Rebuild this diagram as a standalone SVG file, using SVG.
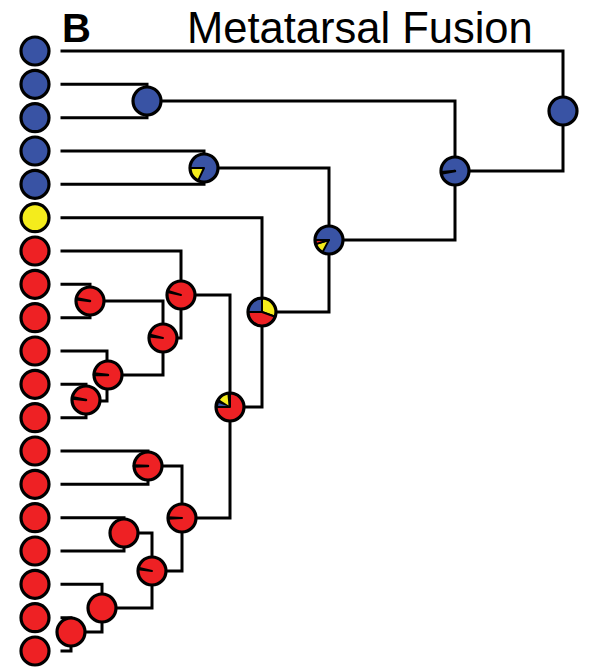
<svg xmlns="http://www.w3.org/2000/svg" width="589" height="670" viewBox="0 0 589 670">
<style>
.c{fill:none;stroke:#000;stroke-width:3;stroke-linecap:square}
.b{fill:#3953a4}
.r{fill:#ee2124}
.y{fill:#f4ec1c}
.o{fill:none;stroke:#000;stroke-width:3.2}
.w{stroke:#000;stroke-width:2;stroke-linejoin:round}
.k{fill:#000;stroke:#000;stroke-width:2.5;stroke-linejoin:round}
.t{font-family:"Liberation Sans",Arial,sans-serif;fill:#000}
</style>
<rect width="589" height="670" fill="#fff"/>
<text class="t" x="62" y="42" font-size="40" font-weight="bold">B</text>
<text class="t" x="187" y="43" font-size="43.5">Metatarsal Fusion</text>
<g id="connectors">
<path class="c" d="M62 51 H563 V111"/>
<path class="c" d="M62 84.3 H147 V117.7 H62"/>
<path class="c" d="M147 101 H455 V171"/>
<path class="c" d="M455 171 H563 V111"/>
<path class="c" d="M455 171 V240 H329"/>
<path class="c" d="M62 151 H204 V184.3 H62"/>
<path class="c" d="M204 168 H329 V312 H262"/>
<path class="c" d="M62 217.7 H262 V407 H230"/>
<path class="c" d="M62 251 H181 V338 H163"/>
<path class="c" d="M181 295 H230 V518 H182"/>
<path class="c" d="M62 284.3 H90 V317.7 H62"/>
<path class="c" d="M90 301 H163 V375 H107"/>
<path class="c" d="M62 351 H107 V401 H86"/>
<path class="c" d="M62 384.3 H86 V417.7 H62"/>
<path class="c" d="M62 451 H148 V484.3 H62"/>
<path class="c" d="M148 466 H182 V571 H152"/>
<path class="c" d="M62 517.7 H124 V551 H62"/>
<path class="c" d="M124 533 H152 V608 H102"/>
<path class="c" d="M62 584.3 H102 V632 H71"/>
<path class="c" d="M62 617.7 H71 V651 H62"/>
</g>
<g id="tips">
<g id="t1"><circle class="b" cx="35" cy="51" r="14"/><circle class="o" cx="35" cy="51" r="14"/></g>
<g id="t2"><circle class="b" cx="35" cy="84.3" r="14"/><circle class="o" cx="35" cy="84.3" r="14"/></g>
<g id="t3"><circle class="b" cx="35" cy="117.7" r="14"/><circle class="o" cx="35" cy="117.7" r="14"/></g>
<g id="t4"><circle class="b" cx="35" cy="151" r="14"/><circle class="o" cx="35" cy="151" r="14"/></g>
<g id="t5"><circle class="b" cx="35" cy="184.3" r="14"/><circle class="o" cx="35" cy="184.3" r="14"/></g>
<g id="t6"><circle class="y" cx="35" cy="217.7" r="14"/><circle class="o" cx="35" cy="217.7" r="14"/></g>
<g id="t7"><circle class="r" cx="35" cy="251" r="14"/><circle class="o" cx="35" cy="251" r="14"/></g>
<g id="t8"><circle class="r" cx="35" cy="284.3" r="14"/><circle class="o" cx="35" cy="284.3" r="14"/></g>
<g id="t9"><circle class="r" cx="35" cy="317.7" r="14"/><circle class="o" cx="35" cy="317.7" r="14"/></g>
<g id="t10"><circle class="r" cx="35" cy="351" r="14"/><circle class="o" cx="35" cy="351" r="14"/></g>
<g id="t11"><circle class="r" cx="35" cy="384.3" r="14"/><circle class="o" cx="35" cy="384.3" r="14"/></g>
<g id="t12"><circle class="r" cx="35" cy="417.7" r="14"/><circle class="o" cx="35" cy="417.7" r="14"/></g>
<g id="t13"><circle class="r" cx="35" cy="451" r="14"/><circle class="o" cx="35" cy="451" r="14"/></g>
<g id="t14"><circle class="r" cx="35" cy="484.3" r="14"/><circle class="o" cx="35" cy="484.3" r="14"/></g>
<g id="t15"><circle class="r" cx="35" cy="517.7" r="14"/><circle class="o" cx="35" cy="517.7" r="14"/></g>
<g id="t16"><circle class="r" cx="35" cy="551" r="14"/><circle class="o" cx="35" cy="551" r="14"/></g>
<g id="t17"><circle class="r" cx="35" cy="584.3" r="14"/><circle class="o" cx="35" cy="584.3" r="14"/></g>
<g id="t18"><circle class="r" cx="35" cy="617.7" r="14"/><circle class="o" cx="35" cy="617.7" r="14"/></g>
<g id="t19"><circle class="r" cx="35" cy="651" r="14"/><circle class="o" cx="35" cy="651" r="14"/></g>
</g>
<g id="nodes">
<g id="n_root"><circle class="b" cx="563" cy="111" r="14"/><circle class="o" cx="563" cy="111" r="14"/></g>
<g id="n147"><circle class="b" cx="147" cy="101" r="14"/><circle class="o" cx="147" cy="101" r="14"/></g>
<g id="n455"><circle class="b" cx="455" cy="171" r="14"/><path class="k" d="M455 171 L441.2 173.4 A14 14 0 0 1 441.1 172.2 Z"/><circle class="o" cx="455" cy="171" r="14"/></g>
<g id="n204"><circle class="b" cx="204" cy="168" r="14"/><path class="y w" d="M204 168 L198.08 180.69 A14 14 0 0 1 190 168 Z"/><circle class="o" cx="204" cy="168" r="14"/></g>
<g id="n329"><circle class="b" cx="329" cy="240" r="14"/><path class="y w" d="M329 240 L322.43 252.36 A14 14 0 0 1 315.61 244.09 Z"/><path class="r w" d="M329 240 L315.61 244.09 A14 14 0 0 1 315 240 Z"/><circle class="o" cx="329" cy="240" r="14"/></g>
<g id="n262"><circle class="r" cx="262" cy="312" r="14"/><path class="b w" d="M262 312 L248 312 A14 14 0 0 1 262 298 Z"/><path class="y w" d="M262 312 L262 298 A14 14 0 0 1 275.16 316.79 Z"/><path class="r w" d="M262 312 L275.16 316.79 A14 14 0 0 1 248 312 Z"/><circle class="o" cx="262" cy="312" r="14"/></g>
<g id="n230"><circle class="r" cx="230" cy="407" r="14"/><path fill="#000" d="M230 407 L216 407 A14 14 0 0 1 230 393 Z"/><path class="b" d="M230 407 L218.2 408.2 A12 12 0 0 1 218.7 402.9 Z"/><path class="y" d="M228.5 405.5 L219.2 399.4 A12.5 12.5 0 0 1 227.4 393.6 Z"/><path class="r w" d="M230 407 L230 393 A14 14 0 1 1 216 407 Z"/><circle class="o" cx="230" cy="407" r="14"/></g>
<g id="n181"><circle class="r" cx="181" cy="295" r="14"/><path class="y w" d="M181 295 L167.1 292.1 A14 14 0 0 1 167.5 290.6 Z"/><circle class="o" cx="181" cy="295" r="14"/></g>
<g id="n163"><circle class="r" cx="163" cy="338" r="14"/><path class="y w" d="M163 338 L149.1 336.5 A14 14 0 0 1 149.5 334.4 Z"/><circle class="o" cx="163" cy="338" r="14"/></g>
<g id="n90"><circle class="r" cx="90" cy="301" r="14"/><path class="k" d="M90 301 L76.1 299.3 A14 14 0 0 1 76.3 298.3 Z"/><circle class="o" cx="90" cy="301" r="14"/></g>
<g id="n108"><circle class="r" cx="108" cy="375" r="14"/><path class="k" d="M108 375 L94 375 A14 14 0 0 1 94.1 373.5 Z"/><circle class="o" cx="108" cy="375" r="14"/></g>
<g id="n86"><circle class="r" cx="86" cy="400" r="14"/><path class="k" d="M86 400 L72.1 398.5 A14 14 0 0 1 72.3 397.3 Z"/><circle class="o" cx="86" cy="400" r="14"/></g>
<g id="n148"><circle class="r" cx="148" cy="466" r="14"/><path class="k" d="M148 466 L134 466.5 A14 14 0 0 1 134 465.5 Z"/><circle class="o" cx="148" cy="466" r="14"/></g>
<g id="n182"><circle class="r" cx="182" cy="518" r="14"/><path class="y w" d="M182 518 L168 518.8 A14 14 0 0 1 168 517.2 Z"/><circle class="o" cx="182" cy="518" r="14"/></g>
<g id="n124"><circle class="r" cx="124" cy="533" r="14"/><circle class="o" cx="124" cy="533" r="14"/></g>
<g id="n152"><circle class="r" cx="152" cy="571" r="14"/><path class="y w" d="M152 571 L138.1 569.3 A14 14 0 0 1 138.4 567.6 Z"/><circle class="o" cx="152" cy="571" r="14"/></g>
<g id="n102"><circle class="r" cx="102" cy="608" r="14"/><circle class="o" cx="102" cy="608" r="14"/></g>
<g id="n71"><circle class="r" cx="71" cy="632" r="14"/><circle class="o" cx="71" cy="632" r="14"/></g>
</g>
</svg>
